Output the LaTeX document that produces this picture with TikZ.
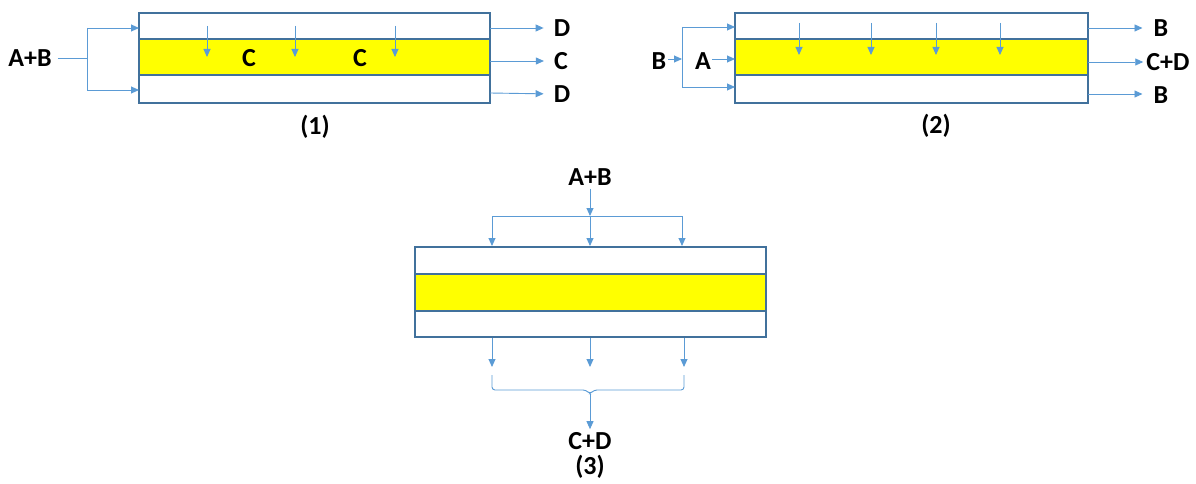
\documentclass[tikz,border=0pt]{standalone}
\usepackage{fontspec}
\setmainfont{Carlito}
\usetikzlibrary{arrows.meta}
\definecolor{flow}{HTML}{5B9BD5}
\definecolor{frame}{HTML}{41719C}
\definecolor{band}{HTML}{FFFF00}
\begin{document}
\begin{tikzpicture}[x=1pt,y=-1pt,
  flowline/.style={draw=flow, line width=0.9pt},
  arr/.style={flowline, -{Triangle[length=8pt,width=7pt]}},
  lbl/.style={font=\fontsize{26}{30}\selectfont\bfseries, inner sep=0pt},
  membrane/.style={draw=frame, line width=1.3pt},
  ]
\useasboundingbox (0,0) rectangle (1196,484);

% ---------------- module (1)
\draw[membrane] (139,13) rectangle (490,103);
\draw[membrane, fill=band] (139,39) rectangle (490,75);
\node[lbl] (ab1) at (30,58) {A+B};
\coordinate (j1) at (87,58);
\coordinate (j1t) at (87,28);
\coordinate (j1b) at (87,90);
\coordinate (in1t) at (139,28);
\coordinate (in1b) at (139,90);
\draw[flowline, shorten <=6pt] (ab1.east) -- (j1);
\draw[flowline] (j1t) -- (j1b);
\draw[arr] (j1t) -- (in1t);
\draw[arr] (j1b) -- (in1b);
\foreach \x/\n in {207/a,295/b,395/c}{
  \coordinate (p1\n) at (\x,26);
  \coordinate (q1\n) at (\x,57);
  \draw[arr] (p1\n) -- (q1\n);
}
\node[lbl] (c1a) at (249,58) {C};
\node[lbl] (c1b) at (360,58) {C};
\coordinate (o1t) at (490,28);
\coordinate (o1m) at (490,61);
\coordinate (o1b) at (490,93);
\node[lbl] (d1t) at (562,28) {D};
\node[lbl] (c1o) at (561,61) {C};
\node[lbl] (d1b) at (562,94) {D};
\draw[arr, shorten >=10pt] (o1t) -- (d1t.west);
\draw[arr, shorten >=10pt] (o1m) -- (c1o.west);
\draw[arr, shorten >=10pt] (o1b) -- (d1b.west);
\node[lbl] (t1) at (315,127) {(1)};

% ---------------- module (2)
\draw[membrane] (735,13) rectangle (1088,103);
\draw[membrane, fill=band] (735,39) rectangle (1088,75);
\node[lbl] (b2) at (659,61) {B};
\node[lbl] (a2) at (703,61) {A};
\coordinate (j2) at (682,59);
\coordinate (j2t) at (682,27);
\coordinate (j2b) at (682,87);
\coordinate (in2t) at (735,27);
\coordinate (in2m) at (735,59);
\coordinate (in2b) at (735,87);
\draw[arr, shorten <=2pt] (b2.east |- j2) -- (j2);
\draw[flowline] (j2t) -- (j2b);
\draw[arr] (j2t) -- (in2t);
\draw[arr] (j2b) -- (in2b);
\draw[arr, shorten <=1pt] (a2.east |- in2m) -- (in2m);
\foreach \x/\n in {799/a,871/b,936/c,1000/d}{
  \coordinate (p2\n) at (\x,23);
  \coordinate (q2\n) at (\x,55);
  \draw[arr] (p2\n) -- (q2\n);
}
\coordinate (o2t) at (1088,28);
\coordinate (o2m) at (1088,62);
\coordinate (o2b) at (1088,94);
\node[lbl] (b2t) at (1161,28) {B};
\node[lbl] (cd2) at (1168,62) {C+D};
\node[lbl] (b2b) at (1161,95) {B};
\draw[arr, shorten >=11pt] (o2t) -- (b2t.west);
\draw[arr, shorten >=3pt] (o2m) -- (cd2.west);
\draw[arr, shorten >=11pt] (o2b) -- (b2b.west |- o2b);
\node[lbl] (t2) at (936,126) {(2)};

% ---------------- module (3)
\draw[membrane] (415,247) rectangle (766,337);
\draw[membrane, fill=band] (415,274) rectangle (766,311);
\node[lbl] (ab3) at (590,177) {A+B};
\coordinate (s3) at (590,216);
\coordinate (s3l) at (492,216);
\coordinate (s3r) at (682,216);
\coordinate (i3l) at (492,246);
\coordinate (i3m) at (590,246);
\coordinate (i3r) at (682,246);
\draw[arr, shorten <=3pt] (ab3.south) -- (s3);
\draw[flowline] (s3l) -- (s3r);
\draw[arr] (s3l) -- (i3l);
\draw[arr] (s3) -- (i3m);
\draw[arr] (s3r) -- (i3r);
\foreach \x/\n in {492/a,590/b,684/c}{
  \coordinate (u3\n) at (\x,338);
  \coordinate (v3\n) at (\x,367);
  \draw[arr] (u3\n) -- (v3\n);
}
\coordinate (bl) at (492,375);
\coordinate (br) at (684,375);
\coordinate (bc) at (590,394);
\draw[flowline, rounded corners=3pt] (bl) -- (492,390) -- (586,390) -- (bc) -- (594,390) -- (684,390) -- (br);
\node[lbl] (cd3) at (590,441) {C+D};
\draw[arr, shorten >=3pt] (bc) -- (cd3.north);
\node[lbl] (t3) at (590,467) {(3)};
\end{tikzpicture}
\end{document}
